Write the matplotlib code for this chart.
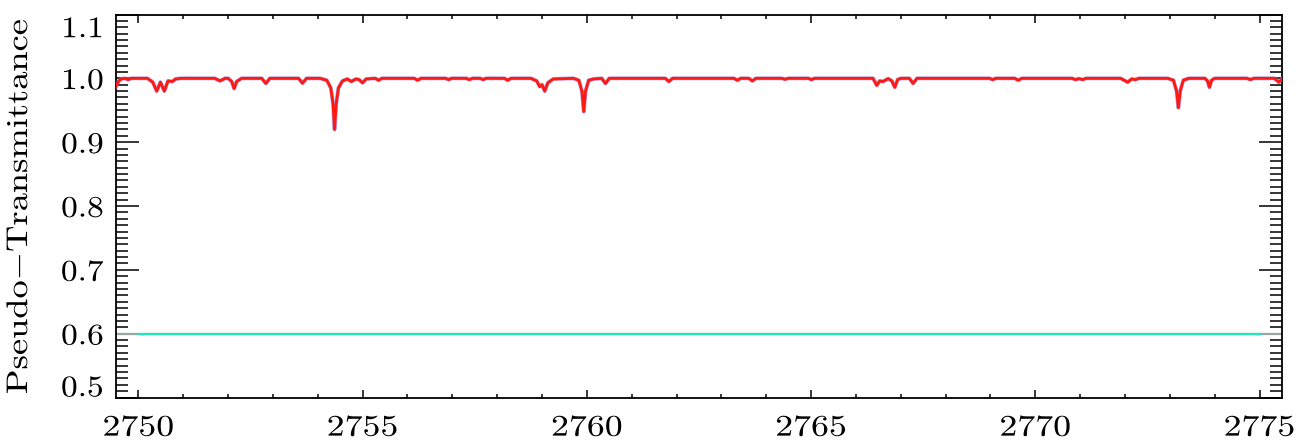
import matplotlib
matplotlib.use("Agg")
import matplotlib.pyplot as plt
import matplotlib.patheffects as pe
from matplotlib.ticker import MultipleLocator, FormatStrFormatter
from matplotlib.transforms import Affine2D, ScaledTranslation

plt.rcParams['font.family'] = ['cmr10', 'DejaVu Serif']
plt.rcParams['mathtext.fontset'] = 'cm'
plt.rcParams['axes.formatter.use_mathtext'] = True

# spectrum (wavenumber, pseudo-transmittance)
wave = [2749.50, 2749.56, 2749.62, 2749.70, 2749.768, 2749.84,
        2750.20, 2750.32, 2750.408, 2750.49, 2750.578, 2750.66, 2750.757, 2750.83, 2750.95,
        2751.70, 2751.821, 2751.93,
        2752.00, 2752.08, 2752.134, 2752.19, 2752.30,
        2752.75, 2752.842, 2752.93,
        2753.57, 2753.658, 2753.75,
        2754.05, 2754.20, 2754.29, 2754.34, 2754.373, 2754.41, 2754.46, 2754.55, 2754.66,
        2754.746, 2754.85, 2754.92, 2754.998, 2755.08, 2755.28, 2755.355, 2755.43,
        2756.15, 2756.225, 2756.30,
        2756.85, 2756.917, 2756.98,
        2757.31, 2757.379, 2757.45, 2757.62, 2757.685, 2757.75,
        2758.16, 2758.234, 2758.31,
        2758.75, 2758.88, 2758.949, 2759.00, 2759.060, 2759.13, 2759.25,
        2759.70, 2759.82, 2759.89, 2759.931, 2759.97, 2760.04, 2760.15,
        2760.33, 2760.415, 2760.50,
        2761.75, 2761.828, 2761.91,
        2763.28, 2763.355, 2763.43, 2763.61, 2763.690, 2763.77,
        2764.35, 2764.418, 2764.49, 2764.94, 2765.007, 2765.08,
        2766.38, 2766.464, 2766.53, 2766.60, 2766.72, 2766.80, 2766.866, 2766.93, 2767.00,
        2767.19, 2767.275, 2767.36,
        2768.98, 2769.047, 2769.12, 2769.54, 2769.618, 2769.70,
        2770.82, 2770.891, 2770.97, 2771.056, 2771.13,
        2771.90, 2772.060, 2772.15, 2772.230, 2772.31,
        2772.95, 2773.08, 2773.15, 2773.190, 2773.23, 2773.30, 2773.42,
        2773.78, 2773.84, 2773.882, 2773.93, 2774.00,
        2774.72, 2774.797, 2774.87,
        2775.33, 2775.430, 2775.50]

trans = [0.987, 0.996, 0.999, 1.0, 0.998, 1.0,
         1.0, 0.994, 0.980, 0.994, 0.980, 0.996, 0.995, 0.999, 1.0,
         1.0, 0.996, 1.0,
         1.0, 0.995, 0.984, 0.995, 1.0,
         1.0, 0.992, 1.0,
         1.0, 0.9925, 1.0,
         1.0, 0.997, 0.985, 0.960, 0.920, 0.960, 0.985, 0.996, 0.999,
         0.995, 0.999, 0.998, 0.993, 0.999, 1.0, 0.997, 1.0,
         1.0, 0.997, 1.0,
         1.0, 0.998, 1.0,
         1.0, 0.998, 1.0, 1.0, 0.998, 1.0,
         1.0, 0.997, 1.0,
         1.0, 0.996, 0.987, 0.990, 0.980, 0.993, 0.999,
         1.0, 0.997, 0.980, 0.948, 0.980, 0.997, 0.999,
         1.0, 0.992, 1.0,
         1.0, 0.995, 1.0,
         1.0, 0.997, 1.0, 1.0, 0.996, 1.0,
         1.0, 0.9985, 1.0, 1.0, 0.998, 1.0,
         1.0, 0.989, 0.996, 0.995, 0.9995, 0.996, 0.986, 0.998, 1.0,
         1.0, 0.992, 1.0,
         1.0, 0.998, 1.0, 1.0, 0.997, 1.0,
         1.0, 0.998, 0.9995, 0.998, 1.0,
         1.0, 0.994, 0.999, 0.998, 1.0,
         1.0, 0.997, 0.980, 0.954, 0.980, 0.997, 1.0,
         1.0, 0.996, 0.986, 0.997, 1.0,
         1.0, 0.998, 1.0,
         1.0, 0.994, 0.999]

# flat reference level
level_x = [2749.5, 2775.5]
level_cyan_x = [2750.0, 2775.0]
level_y = 0.6


class Stretch(pe.AbstractPathEffect):
    """widen glyphs horizontally, the original font is set wider than cmr10"""
    def __init__(self, sx, anchor='center'):
        super().__init__()
        self.sx = sx
        self.anchor = anchor

    def draw_path(self, renderer, gc, tpath, affine, rgbFace=None):
        ext = tpath.get_extents()
        if self.anchor == 'right':
            x0 = ext.x1
        else:
            x0 = (ext.x0 + ext.x1) / 2
        t = Affine2D().translate(-x0, 0).scale(self.sx, 1).translate(x0, 0)
        renderer.draw_path(gc, tpath, t + affine, rgbFace)


fig = plt.figure(figsize=(12.99, 4.45), dpi=100)
ax = fig.add_axes([0.0893, 0.1067, 0.8976, 0.8607])

ax.plot(level_x, [level_y, level_y], color='#9aa8a4', lw=1.6, zorder=2)
ax.plot(level_cyan_x, [level_y, level_y], color='#1ee8b4', lw=1.6, zorder=3)
ax.plot(wave, trans, color='#a070d0', lw=2.8, alpha=0.7, zorder=4)
ax.plot(wave, trans, color='#ff1a10', lw=2.0, zorder=5)

ax.set_xlim(2749.5, 2775.5)
ax.set_ylim(0.5, 1.1)

ax.xaxis.set_major_locator(MultipleLocator(5))
ax.xaxis.set_minor_locator(MultipleLocator(1))
ax.yaxis.set_major_locator(MultipleLocator(0.1))
ax.yaxis.set_minor_locator(MultipleLocator(0.01))
ax.xaxis.set_major_formatter(FormatStrFormatter('%d'))
ax.yaxis.set_major_formatter(FormatStrFormatter('%.1f'))

for s in ax.spines.values():
    s.set_linewidth(1.3)

ax.tick_params(axis='x', which='major', direction='in', length=5.5, width=1.1,
               top=True, bottom=True, labelsize=21.5, pad=12)
ax.tick_params(axis='x', which='minor', direction='in', length=2.8, width=1.1,
               top=True, bottom=True)
ax.tick_params(axis='y', which='major', direction='in', length=16.5, width=1.1,
               left=True, right=True, labelsize=21.5, pad=9)
ax.tick_params(axis='y', which='minor', direction='in', length=8.3, width=1.1,
               left=True, right=True)

ylab = ax.set_ylabel('Pseudo$-$Transmittance', fontsize=21.5)
ylab.set_path_effects([Stretch(1.22)])
ax.yaxis.set_label_coords(-0.071, 0.5)

# ticks exist after a draw; then tweak their labels
fig.canvas.draw()
for t in ax.xaxis.get_major_ticks():
    t.label1.set_path_effects([Stretch(1.2)])
for t in ax.yaxis.get_major_ticks():
    t.label1.set_path_effects([Stretch(1.12, 'right')])
    # end labels sit inside the axis range, as in the original
    if abs(t.get_loc() - 0.5) < 1e-6:
        t.label1.set_transform(t.label1.get_transform() + ScaledTranslation(0, 0.12, fig.dpi_scale_trans))
    if abs(t.get_loc() - 1.1) < 1e-6:
        t.label1.set_transform(t.label1.get_transform() + ScaledTranslation(0, -0.12, fig.dpi_scale_trans))

fig.savefig('out.png', dpi=100)
